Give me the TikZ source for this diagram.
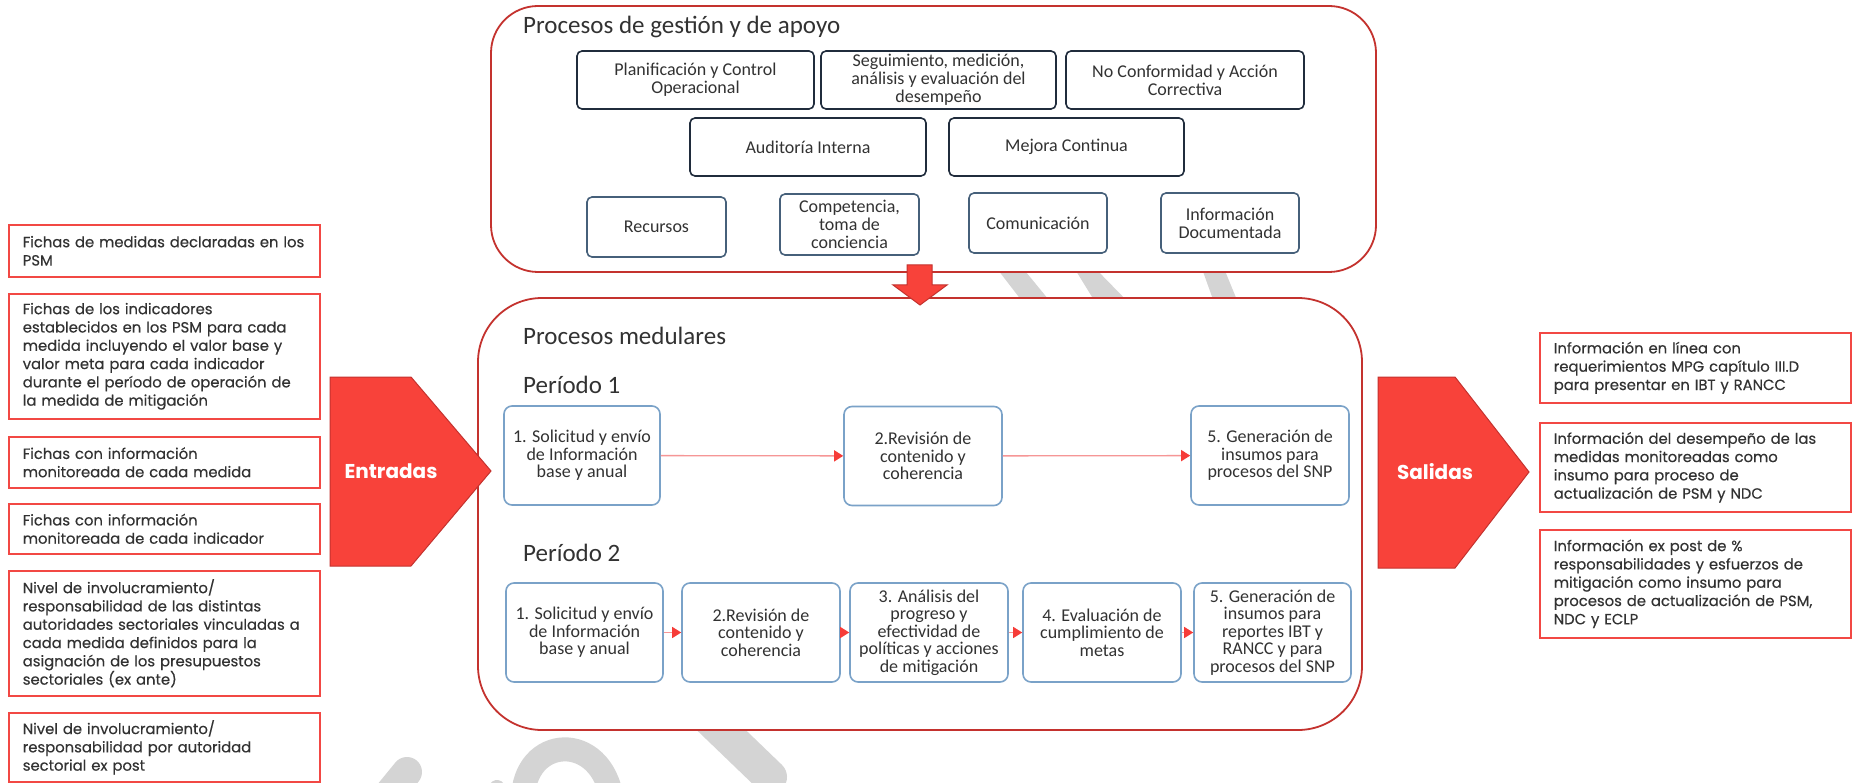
\documentclass[tikz,border=0pt]{standalone}
\usepackage{fontspec}
\setmainfont{Carlito}
\newfontfamily\mont[FakeBold=0.35]{Poppins}
\newfontfamily\montb{Poppins}
\usetikzlibrary{arrows.meta}
\definecolor{navy}{RGB}{32,44,60}
\definecolor{steel}{RGB}{70,96,122}
\definecolor{lblue}{RGB}{122,162,200}
\definecolor{redb}{RGB}{242,72,68}
\definecolor{cred}{RGB}{196,50,46}
\definecolor{afill}{RGB}{248,66,58}
\definecolor{lred}{RGB}{246,150,150}
\definecolor{ared}{RGB}{246,60,56}
\definecolor{txt}{RGB}{50,50,50}
\definecolor{wm}{RGB}{212,212,212}
\tikzset{
  container/.style={draw=cred, line width=1.8, fill=white},
  gbox/.style={draw=navy, line width=1.6, rounded corners=5, fill=white, align=center, text=txt, inner sep=2,
    font=\fontsize{18}{18}\selectfont},
  gboxs/.style={gbox, draw=steel},
  mbox/.style={draw=lblue, line width=1.6, rounded corners=8, fill=white, align=center, text=txt, inner sep=2,
    minimum height=99, font=\fontsize{18}{17.4}\selectfont},
  iobox/.style={draw=redb, line width=1.6, fill=white, align=left, text=txt, text width=283, inner xsep=14,
    anchor=north west, font=\mont\fontsize{14.8}{18.3}\selectfont},
  title/.style={anchor=west, text=txt, font=\fontsize{25}{25}\selectfont, inner sep=0},
  bigarrow/.style={fill=afill, draw=cred, line width=1},
  bigtxt/.style={text=white, font=\montb\bfseries\fontsize{20}{20}\selectfont},
  flow/.style={draw=lred, line width=1.3, -{Triangle[length=9,width=11,color=ared]}},
  wmark/.style={wm, line width=30, line cap=round}
}
\begin{document}
\begin{tikzpicture}[x=1pt,y=-1pt]
\useasboundingbox (0,0) rectangle (1857,783);
\fill[white] (0,0) rectangle (1857,783);
% watermark fragments
\fill[wm] (995,266) -- (1021,266) -- (1053,305) -- (1025,305) -- cycle;
\fill[wm] (1073,266) -- (1093,266) -- (1131,305) -- (1097,305) -- cycle;
\fill[wm] (1201,266) -- (1223,266) -- (1239,305) -- (1215,305) -- cycle;
\draw[wmark] (380,805) -- (407,772);
\draw[wmark, line width=16] (486,805) -- (497,788);
\draw[wmark, line width=24, line cap=butt] (523,800) .. controls (523,735) and (602,730) .. (612,800);
\draw[wmark, line width=34] (690,700) -- (770,777);

% management box
\draw[container, rounded corners=47] (491,6) rectangle (1376,272);
\node[title] (tg) at (523,27) {Procesos de gestión y de apoyo};
\node[gbox, minimum width=237, minimum height=58] (plan) at (695.5,80) {Planificación y Control\\Operacional};
\node[gbox, minimum width=235, minimum height=58] (seg) at (938.5,80) {Seguimiento, medición,\\análisis y evaluación del\\desempeño};
\node[gbox, minimum width=238, minimum height=58] (nc) at (1185,80) {No Conformidad y Acción\\Correctiva};
\node[gbox, minimum width=236, minimum height=58] (aud) at (808,147) {Auditoría Interna};
\node[gbox, minimum width=235, minimum height=58] (mej) at (1066.5,147) {Mejora Continua};
\node[gboxs, minimum width=139, minimum height=60] (rec) at (656.5,227) {Recursos};
\node[gboxs, minimum width=139, minimum height=61] (comp) at (849.5,224.5) {Competencia,\\toma de\\conciencia};
\node[gboxs, minimum width=138, minimum height=60] (com) at (1038,223) {Comunicación};
\node[gboxs, minimum width=138, minimum height=60] (info) at (1230,223) {Información\\Documentada};

% core box
\draw[container, rounded corners=64] (478,298) rectangle (1362,730);
\fill[afill, draw=cred, line width=1] (907,265) -- (932,265) -- (932,285) -- (947,285) -- (920,305) -- (893,285) -- (907,285) -- cycle;
\node[title] (tm) at (523,336) {Procesos medulares};
\node[title] (p1) at (523,385) {Período 1};
\node[title] (p2) at (523,553) {Período 2};

\node[mbox, minimum width=156] (a1) at (582,455.5) {1. Solicitud y envío\\de Información\\base y anual};
\node[mbox, minimum width=158] (a2) at (923,456) {2.Revisión de\\contenido y\\coherencia};
\node[mbox, minimum width=158] (a5) at (1270,455.5) {5. Generación de\\insumos para\\procesos del SNP};
\draw[flow] (a1) -- (a2);
\draw[flow] (a2) -- (a5);

\node[mbox, minimum width=157] (b1) at (584.5,632.5) {1. Solicitud y envío\\de Información\\base y anual};
\node[mbox, minimum width=158] (b2) at (761,632.5) {2.Revisión de\\contenido y\\coherencia};
\node[mbox, minimum width=158] (b3) at (929,632.5) {3. Análisis del\\progreso y\\efectividad de\\políticas y acciones\\de mitigación};
\node[mbox, minimum width=158] (b4) at (1102,632.5) {4. Evaluación de\\cumplimiento de\\metas};
\node[mbox, minimum width=157] (b5) at (1272.5,632.5) {5. Generación de\\insumos para\\reportes IBT y\\RANCC y para\\procesos del SNP};
\draw[flow] (b1) -- (b2);
\draw[flow] (b2) -- (b3);
\draw[flow] (b3) -- (b4);
\draw[flow] (b4) -- (b5);

% inputs
\draw[bigarrow] (330,377) -- (411,377) -- (491,471) -- (411,566) -- (330,566) -- cycle;
\node[bigtxt] (ent) at (391,471) {Entradas};
\node[iobox, minimum height=52] (i1) at (8,224) {Fichas de medidas declaradas en los\\PSM};
\node[iobox, minimum height=125] (i2) at (8,293) {Fichas de los indicadores\\establecidos en los PSM para cada\\medida incluyendo el valor base y\\valor meta para cada indicador\\durante el período de operación de\\la medida de mitigación};
\node[iobox, minimum height=51] (i3) at (8,436) {Fichas con información\\monitoreada de cada medida};
\node[iobox, minimum height=50] (i4) at (8,503) {Fichas con información\\monitoreada de cada indicador};
\node[iobox, minimum height=125] (i5) at (8,570) {Nivel de involucramiento/\\responsabilidad de las distintas\\autoridades sectoriales vinculadas a\\cada medida definidos para la\\asignación de los presupuestos\\sectoriales (ex ante)};
\node[iobox, minimum height=69] (i6) at (8,712) {Nivel de involucramiento/\\responsabilidad por autoridad\\sectorial ex post};

% outputs
\draw[bigarrow] (1378,377) -- (1455,377) -- (1529,472) -- (1455,568) -- (1378,568) -- cycle;
\node[bigtxt] (sal) at (1435,472) {Salidas};
\node[iobox, minimum height=70] (o1) at (1539,332) {Información en línea con\\requerimientos MPG capítulo III.D\\para presentar en IBT y RANCC};
\node[iobox, minimum height=89] (o2) at (1539,422) {Información del desempeño de las\\medidas monitoreadas como\\insumo para proceso de\\actualización de PSM y NDC};
\node[iobox, minimum height=108] (o3) at (1539,529) {Información ex post de \%\\responsabilidades y esfuerzos de\\mitigación como insumo para\\procesos de actualización de PSM,\\NDC y ECLP};
\end{tikzpicture}
\end{document}
